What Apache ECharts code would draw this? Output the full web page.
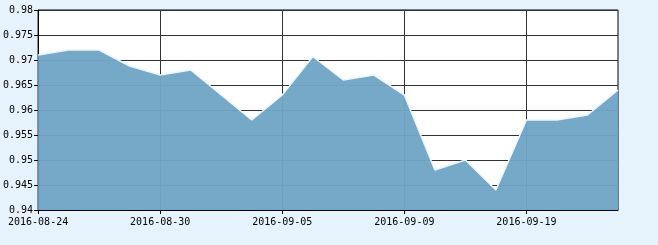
<!DOCTYPE html>
<html><head><meta charset="utf-8">
<script src="https://cdn.jsdelivr.net/npm/echarts@6/dist/echarts.min.js"></script>
<style>html,body{margin:0;padding:0;background:#E7F3FC;}#c{width:658px;height:245px;}</style>
</head><body><div id="c"></div>
<script>
const dates = ['2016-08-24','2016-08-25','2016-08-26','2016-08-29','2016-08-30','2016-08-31','2016-09-01','2016-09-02','2016-09-05','2016-09-06','2016-09-07','2016-09-08','2016-09-09','2016-09-12','2016-09-13','2016-09-14','2016-09-19','2016-09-20','2016-09-21','2016-09-22'];
const values = [0.971,0.972,0.972,0.9688,0.967,0.968,0.963,0.958,0.963,0.9707,0.966,0.967,0.963,0.948,0.950,0.944,0.958,0.958,0.959,0.964];
const yMin = 0.94, yMax = 0.98, yStep = 0.005;
const font = '"DejaVu Sans Mono", monospace';
const chart = echarts.init(document.getElementById('c'), null, {renderer:'canvas'});
chart.setOption({
  backgroundColor: '#E7F3FC',
  animation: false,
  grid: {left: 38, top: 10, right: 40, bottom: 35, show: true, backgroundColor: '#fff', borderColor: '#000', borderWidth: 1},
  xAxis: {
    type: 'category', data: dates, boundaryGap: false,
    axisLine: {lineStyle: {color: '#000', width: 1}},
    axisTick: {interval: 3, length: 4, lineStyle: {color: '#000'}},
    axisLabel: {interval: 3, color: '#000', fontFamily: font, fontSize: 10, margin: 7},
    splitLine: {show: true, interval: 3, lineStyle: {color: '#333', width: 1}}
  },
  yAxis: {
    type: 'value', min: yMin, max: yMax, interval: yStep,
    axisLine: {show: true, lineStyle: {color: '#000', width: 1}},
    axisTick: {show: true, length: 4, lineStyle: {color: '#000'}},
    axisLabel: {color: '#000', fontFamily: font, fontSize: 10, margin: 5,
      formatter: v => String(Math.round(v*1000)/1000)},
    splitLine: {show: true, lineStyle: {color: '#333', width: 1}}
  },
  series: [{
    type: 'line', data: values, symbol: 'none',
    lineStyle: {color: '#EAF5FD', width: 1.5},
    areaStyle: {color: '#70A6C5', opacity: 0.96}
  }]
});
</script></body></html>
